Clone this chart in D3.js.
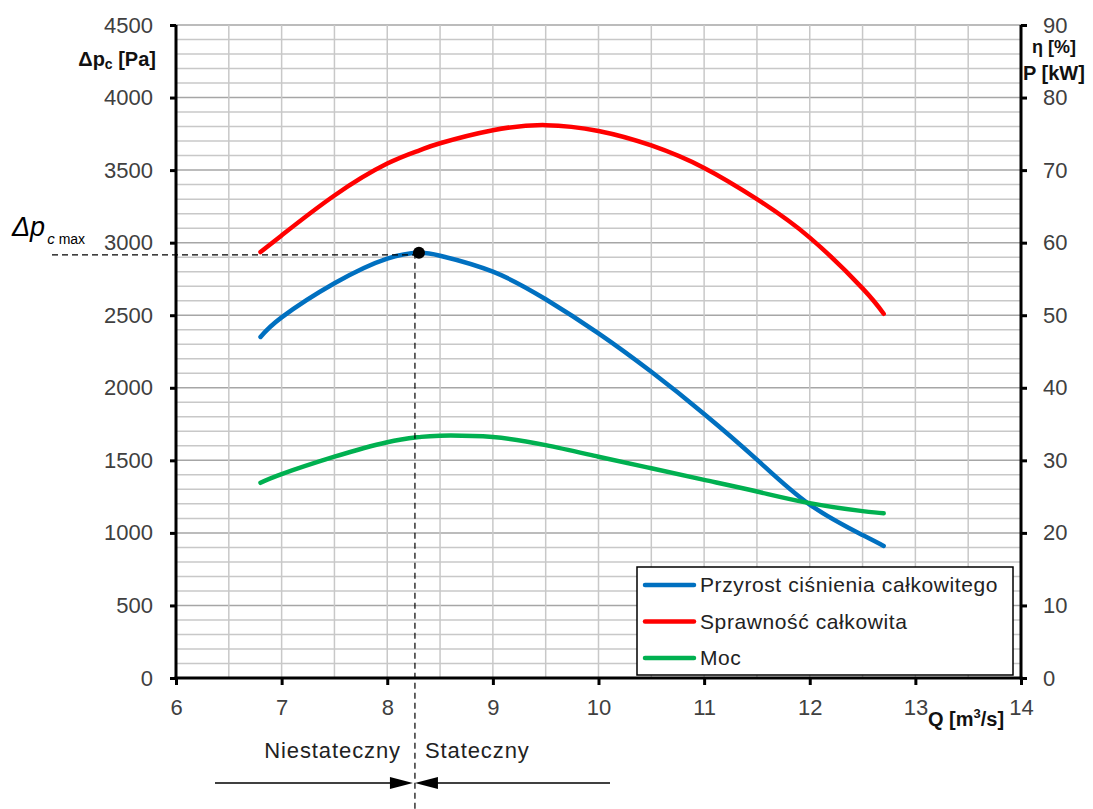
<!DOCTYPE html>
<html>
<head>
<meta charset="utf-8">
<script src="https://cdn.jsdelivr.net/npm/d3@7"></script>
<style>
body { margin: 0; background: #fff; }
text { font-family: "Liberation Sans", Arial, sans-serif; }
</style>
</head>
<body>
<div class="content"></div>
<script>
var size = {width: 1093, height: 809};
var frame = {left: 176, right: 1021, top: 25, bottom: 678};

// flow rate Q [m3/s]
var q = [6.8, 7, 7.5, 8, 8.3, 8.5, 9, 9.5, 10, 10.5, 11, 11.5, 12, 12.5, 12.7];
// total pressure rise [Pa]
var dp = [2350, 2485, 2720, 2890, 2930, 2910, 2800, 2610, 2375, 2110, 1820, 1505, 1195, 985, 910];
// total efficiency [%]
var eta = [58.7, 61.0, 66.5, 70.9, 72.7, 73.7, 75.5, 76.2, 75.4, 73.4, 70.3, 66.0, 60.7, 53.7, 50.2];
// power [kW]
var power = [26.9, 28.1, 30.5, 32.5, 33.2, 33.4, 33.2, 32.1, 30.5, 28.9, 27.3, 25.7, 24.1, 23.0, 22.7];

var xTicks = [6, 7, 8, 9, 10, 11, 12, 13, 14];
var yTicks = [0, 500, 1000, 1500, 2000, 2500, 3000, 3500, 4000, 4500];
var y2Ticks = [0, 10, 20, 30, 40, 50, 60, 70, 80, 90];
var peak = {q: 8.3, dp: 2930};

var seriesNames = ["Przyrost ciśnienia całkowitego", "Sprawność całkowita", "Moc"];
var seriesColors = ["#0070c0", "#ff0000", "#00b050"];

var chart = d3.select('.content')
    .append('svg')
    .attr('width', size.width)
    .attr('height', size.height);

var xScale = d3.scaleLinear().domain([6, 14]).range([frame.left, frame.right]);
var yScale = d3.scaleLinear().domain([0, 4500]).range([frame.bottom, frame.top]);
var y2Scale = d3.scaleLinear().domain([0, 90]).range([frame.bottom, frame.top]);

// grid
var grid = chart.append('g');
grid.selectAll('line.h').data(d3.range(100, 4501, 100)).enter().append('line')
    .attr('x1', frame.left).attr('x2', frame.right)
    .attr('y1', function(d) { return yScale(d); })
    .attr('y2', function(d) { return yScale(d); })
    .attr('stroke', function(d) { return d % 500 === 0 ? '#a6a6a6' : '#c8c8c8'; })
    .attr('stroke-width', 1.5);
grid.selectAll('line.v').data(d3.range(6.5, 14, 0.5)).enter().append('line')
    .attr('y1', frame.top).attr('y2', frame.bottom)
    .attr('x1', function(d) { return xScale(d); })
    .attr('x2', function(d) { return xScale(d); })
    .attr('stroke', '#c8c8c8')
    .attr('stroke-width', 1.5);

// axes
var xAxis = d3.axisBottom(xScale).tickValues(xTicks).tickSize(7).tickSizeOuter(0).tickPadding(14).tickFormat(d3.format('d'));
var yAxis = d3.axisLeft(yScale).tickValues(yTicks).tickSize(6).tickSizeOuter(0).tickPadding(17).tickFormat(d3.format('d'));
var y2Axis = d3.axisRight(y2Scale).tickValues(y2Ticks).tickSize(6).tickSizeOuter(0).tickPadding(16).tickFormat(d3.format('d'));

function styleAxis(g) {
    g.select('.domain').remove();
    g.selectAll('.tick line').attr('stroke', '#000').attr('stroke-width', 3);
    g.selectAll('.tick text').attr('font-size', 22).attr('fill', '#404040')
        .attr('font-family', '"Liberation Sans", Arial, sans-serif');
}
chart.append('g').attr('transform', 'translate(0,' + frame.bottom + ')').call(xAxis).call(styleAxis);
chart.append('g').attr('transform', 'translate(' + frame.left + ',0)').call(yAxis).call(styleAxis);
chart.append('g').attr('transform', 'translate(' + frame.right + ',0)').call(y2Axis).call(styleAxis);

// axis lines
var axisLines = [[frame.left, frame.top, frame.left, frame.bottom + 1.5],
                 [frame.right, frame.top, frame.right, frame.bottom + 1.5],
                 [frame.left - 1.5, frame.bottom, frame.right + 1.5, frame.bottom]];
chart.append('g').selectAll('line').data(axisLines).enter().append('line')
    .attr('x1', function(d) { return d[0]; }).attr('y1', function(d) { return d[1]; })
    .attr('x2', function(d) { return d[2]; }).attr('y2', function(d) { return d[3]; })
    .attr('stroke', '#000').attr('stroke-width', 3);

// axis titles
var t1 = chart.append('text').attr('x', 156).attr('y', 66).attr('text-anchor', 'end')
    .attr('font-size', 20).attr('font-weight', 'bold').attr('fill', '#111');
t1.append('tspan').text('Δp');
t1.append('tspan').attr('font-size', 14).attr('dy', 3).text('c');
t1.append('tspan').attr('dy', -3).text(' [Pa]');
chart.append('text').attr('x', 1032).attr('y', 53).attr('font-size', 18)
    .attr('font-weight', 'bold').attr('fill', '#111').text('η [%]');
chart.append('text').attr('x', 1023).attr('y', 80).attr('font-size', 20)
    .attr('font-weight', 'bold').attr('fill', '#111').text('P [kW]');
var t2 = chart.append('text').attr('x', 928).attr('y', 726).attr('font-size', 20)
    .attr('font-weight', 'bold').attr('fill', '#111');
t2.append('tspan').text('Q [m');
t2.append('tspan').attr('font-size', 13).attr('dy', -8).text('3');
t2.append('tspan').attr('dy', 8).text('/s]');

// curves
var line = function(ys, scale) {
    return d3.line()
        .x(function(d, i) { return xScale(q[i]); })
        .y(function(d) { return scale(d); })
        .curve(d3.curveNatural)(ys);
};
var curves = [[dp, yScale], [eta, y2Scale], [power, y2Scale]];
chart.append('g').selectAll('path').data(curves).enter().append('path')
    .attr('d', function(d) { return line(d[0], d[1]); })
    .attr('fill', 'none')
    .attr('stroke', function(d, i) { return seriesColors[i]; })
    .attr('stroke-width', 4.5)
    .attr('stroke-linecap', 'round');

// peak marker and dashed guides
var px = xScale(peak.q), py = yScale(peak.dp);
chart.append('line').attr('x1', 52).attr('x2', px).attr('y1', py + 2).attr('y2', py + 2)
    .attr('stroke', '#000').attr('stroke-width', 1.2).attr('stroke-dasharray', '6,4');
chart.append('line').attr('x1', px - 4).attr('x2', px - 4).attr('y1', py).attr('y2', size.height)
    .attr('stroke', '#000').attr('stroke-width', 1.2).attr('stroke-dasharray', '6,4');
chart.append('circle').attr('cx', px).attr('cy', py).attr('r', 6).attr('fill', '#000');

var lab = chart.append('text').attr('x', 12).attr('y', 236)
    .attr('font-family', '"Liberation Serif", "Times New Roman", serif').attr('font-style', 'italic')
    .attr('font-size', 27).attr('fill', '#000');
lab.append('tspan').text('Δp');
lab.append('tspan').attr('font-size', 15).attr('dy', 8).attr('dx', 2).text('c');
lab.append('tspan').attr('font-size', 14).attr('font-style', 'normal').attr('dx', 4).text('max');

// stability regions
var regionFont = 'Lato, "Open Sans", sans-serif';
chart.append('text').attr('x', 401).attr('y', 758).attr('text-anchor', 'end')
    .attr('font-family', regionFont).attr('font-size', 22).attr('letter-spacing', 0.9).attr('fill', '#222')
    .text('Niestateczny');
chart.append('text').attr('x', 425).attr('y', 758)
    .attr('font-family', regionFont).attr('font-size', 22).attr('letter-spacing', 0.9).attr('fill', '#222')
    .text('Stateczny');
var ax = px - 5;
chart.append('line').attr('x1', 215).attr('x2', ax - 10).attr('y1', 783).attr('y2', 783)
    .attr('stroke', '#000').attr('stroke-width', 1.3);
chart.append('line').attr('x1', ax + 10).attr('x2', 610).attr('y1', 783).attr('y2', 783)
    .attr('stroke', '#000').attr('stroke-width', 1.3);
chart.append('path').attr('d', 'M' + (ax - 24) + ',777L' + (ax - 1) + ',783L' + (ax - 24) + ',789Z').attr('fill', '#000');
chart.append('path').attr('d', 'M' + (ax + 24) + ',777L' + (ax + 1) + ',783L' + (ax + 24) + ',789Z').attr('fill', '#000');

// legend
var legend = chart.append('g').attr('transform', 'translate(637,567)');
legend.append('rect').attr('width', 376).attr('height', 108)
    .attr('fill', '#fff').attr('stroke', '#000').attr('stroke-width', 1.5);
var items = legend.selectAll('g').data(seriesNames).enter().append('g')
    .attr('transform', function(d, i) { return 'translate(0,' + (18 + i * 36.5) + ')'; });
items.append('line').attr('x1', 8).attr('x2', 57)
    .attr('stroke', function(d, i) { return seriesColors[i]; })
    .attr('stroke-width', 4.5).attr('stroke-linecap', 'round');
items.append('text').attr('x', 63).attr('y', 7)
    .attr('font-family', regionFont).attr('font-size', 21).attr('letter-spacing', 0.6).attr('fill', '#222')
    .text(function(d) { return d; });
</script>
</body>
</html>
